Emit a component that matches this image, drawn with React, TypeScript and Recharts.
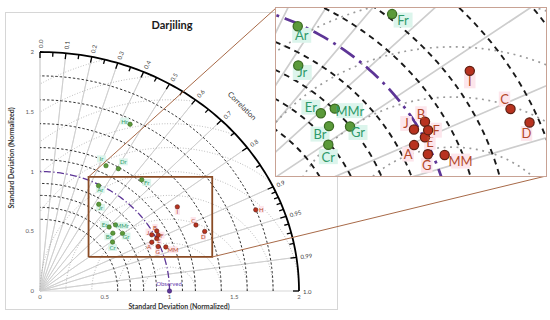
import { ScatterChart, Scatter, XAxis, YAxis } from 'recharts';

// values (normalized std dev + correlation against observed)
const AXIS_TICKS = [0, 0.5, 1, 1.5, 2];

const RED_NAMES = ['A', 'B', 'C', 'D', 'E', 'F', 'G', 'H', 'I', 'J', 'MM'];
const RED_STD = [0.955, 1.032, 1.325, 1.366, 1.003, 1.026, 0.985, 1.799, 1.273, 0.983, 1.039];
const RED_CORR = [0.904, 0.874, 0.909, 0.931, 0.899, 0.89, 0.926, 0.926, 0.833, 0.878, 0.935];

const GREEN_NAMES = ['Ar', 'Br', 'Cr', 'Dr', 'Er', 'Fr', 'Gr', 'Hr', 'Ir', 'Jr', 'MMr'];
const GREEN_STD = [0.991, 0.742, 0.694, 1.189, 0.756, 1.218, 0.799, 1.559, 1.166, 0.856, 0.804];
const GREEN_CORR = [0.456, 0.758, 0.807, 0.509, 0.706, 0.645, 0.797, 0.446, 0.437, 0.53, 0.725];

const OBSERVED_STD = 1;
const OBSERVED_CORR = 1;

const CORR_LABELS = [0, 0.1, 0.2, 0.3, 0.4, 0.5, 0.6, 0.7, 0.8, 0.9, 0.95, 0.99, 1];
const CORR_MINOR = [0.05, 0.15, 0.25, 0.35, 0.45, 0.55, 0.65, 0.75, 0.85, 0.91, 0.92, 0.93, 0.94, 0.96, 0.97, 0.98];
const CORR_RAYS = [0, 0.1, 0.2, 0.3, 0.4, 0.5, 0.6, 0.7, 0.8, 0.9, 0.95, 0.99, 1];
const STD_ARCS = [0.6, 0.7, 0.8, 0.9, 1.1, 1.2, 1.4, 1.6, 1.8];
const RMS_ARCS = [0.2, 0.4, 0.6, 0.8, 1.0, 1.2, 1.4, 1.6, 1.8, 2.0];
const STD_MAX = 2;
const ZOOM_X = [0.375, 1.33];
const ZOOM_Y = [0.285, 0.955];

// label offsets (px in the zoomed panel)
const LABEL_SHIFT: Record<string, [number, number]> = {
  A: [-6, 9], B: [-4, -8], C: [-6, -10], D: [-3, 11], E: [5, 5], F: [8, 0], G: [-1, 11],
  H: [12, -1], I: [0, 10], J: [-8, -6], MM: [16, 6],
  Ar: [4, 9], Br: [-9, 8], Cr: [0, 12], Dr: [11, -15], Er: [-10, -6], Fr: [11, 6], Gr: [8, 6],
  Hr: [-12, -7], Ir: [-10, -15], Jr: [4, 7], MMr: [15, 2],
  Observed: [-1, -17],
};

const FONT = 'Lato, "Liberation Sans", Arial, sans-serif';
const MAIN = { w: 340, h: 315, left: 40, top: 52, pw: 259, ph: 239 };
const INSET = { left: 276, top: 8, w: 270, h: 168 };
const KX = MAIN.pw / STD_MAX;
const KY = MAIN.ph / STD_MAX;

const clamp = (v: number) => Math.min(STD_MAX, Math.max(0, Math.round(v * 1e6) / 1e6));
const toXY = (std: number, corr: number) => ({
  x: clamp(std * corr),
  y: clamp(std * Math.sqrt(Math.max(0, 1 - corr * corr))),
});
const fmtCorr = (c: number) => (Number.isInteger(c) ? c.toFixed(1) : String(c));
const inZoom = (p: { x: number; y: number }) =>
  p.x >= ZOOM_X[0] && p.x <= ZOOM_X[1] && p.y >= ZOOM_Y[0] && p.y <= ZOOM_Y[1];

function stdArc(r: number) {
  const pts = [];
  for (let i = 0; i <= 90; i++) {
    const a = (i / 90) * (Math.PI / 2);
    pts.push({ x: clamp(r * Math.cos(a)), y: clamp(r * Math.sin(a)) });
  }
  return pts;
}

function rmsArc(r: number) {
  const o = OBSERVED_STD;
  const a0 = r + o > STD_MAX ? Math.acos((STD_MAX * STD_MAX - o * o - r * r) / (2 * r * o)) : 0;
  const a1 = r > o ? Math.acos(-o / r) : Math.PI;
  const pts = [];
  for (let i = 0; i <= 120; i++) {
    const a = a0 + ((a1 - a0) * i) / 120;
    pts.push({ x: clamp(o + r * Math.cos(a)), y: clamp(r * Math.sin(a)) });
  }
  return pts;
}

const redPoints = RED_NAMES.map((name, i) => ({ name, ...toXY(RED_STD[i], RED_CORR[i]) }));
const greenPoints = GREEN_NAMES.map((name, i) => ({ name, ...toXY(GREEN_STD[i], GREEN_CORR[i]) }));
const observedPoint = [{ name: 'Observed', ...toXY(OBSERVED_STD, OBSERVED_CORR) }];
const rays = CORR_RAYS.flatMap((c) => [{ x: 0, y: 0 }, toXY(STD_MAX, c)]);
const majorTicks = CORR_LABELS.map((c) => ({ ...toXY(STD_MAX, c), label: fmtCorr(c) }));
const minorTicks = CORR_MINOR.map((c) => ({ ...toXY(STD_MAX, c), label: '' }));
const zoomBox = [
  { x: ZOOM_X[0], y: ZOOM_Y[0] }, { x: ZOOM_X[1], y: ZOOM_Y[0] },
  { x: ZOOM_X[1], y: ZOOM_Y[1] }, { x: ZOOM_X[0], y: ZOOM_Y[1] }, { x: ZOOM_X[0], y: ZOOM_Y[0] },
];

type Look = { lw: number; dash: number; r: number; font: number; off: number };
const MAIN_LOOK: Look = { lw: 1, dash: 1, r: 2.2, font: 6, off: 1 / 2.2 };
const ZOOM_LOOK: Look = { lw: 2.1, dash: 2.4, r: 4.6, font: 13, off: 1 };

const noDot = () => <g />;

const arcTick = (major: boolean) => (p: any) => {
  const { cx, cy, payload } = p;
  const vx = KX * payload.x;
  const vy = -KY * payload.y;
  const n = Math.hypot(vx, vy) || 1;
  const ux = vx / n;
  const uy = vy / n;
  const len = major ? 6 : 4.5;
  const tx = cx + ux * 4;
  const ty = cy + uy * 4;
  const ang = (Math.atan2(uy, ux) * 180) / Math.PI;
  return (
    <g>
      <line x1={cx} y1={cy} x2={cx - ux * len} y2={cy - uy * len} stroke="#000" strokeWidth={1.3} />
      {major && (
        <text x={tx} y={ty} transform={`rotate(${ang} ${tx} ${ty})`} fontSize={6} fill="#404040" dominantBaseline="central">
          {payload.label}
        </text>
      )}
    </g>
  );
};

const pointShape = (look: Look, fill: string, stroke: string, color: string, bg: string) => (p: any) => {
  const { cx, cy, payload } = p;
  const [dx, dy] = LABEL_SHIFT[payload.name] ?? [0, 0];
  const tx = cx + dx * look.off;
  const ty = cy + dy * look.off;
  const w = payload.name.length * look.font * 0.58 + look.font * 0.3;
  const h = look.font * 1.15;
  return (
    <g>
      <rect x={tx - w / 2} y={ty - h / 2} width={w} height={h} fill={bg} />
      <circle cx={cx} cy={cy} r={look.r} fill={fill} stroke={stroke} strokeWidth={look.lw * 0.6} />
      <text x={tx} y={ty} textAnchor="middle" dominantBaseline="central" fontSize={look.font} fill={color}>
        {payload.name}
      </text>
    </g>
  );
};

function lineSeries(key: string, data: any[], stroke: string, width: number, dash?: string) {
  return (
    <Scatter
      key={key}
      data={data}
      line={{ stroke, strokeWidth: width, strokeDasharray: dash, fill: 'none' }}
      shape={noDot}
      isAnimationActive={false}
    />
  );
}

function TaylorChart({ zoom }: { zoom?: boolean }) {
  const look = zoom ? ZOOM_LOOK : MAIN_LOOK;
  const d = look.dash;
  const w = zoom ? INSET.w : MAIN.w;
  const h = zoom ? INSET.h : MAIN.h;
  const margin = zoom
    ? { top: 0, right: 0, bottom: 0, left: 0 }
    : { top: MAIN.top, right: MAIN.w - MAIN.left - MAIN.pw, bottom: 0, left: 0 };
  const green = zoom ? greenPoints.filter(inZoom) : greenPoints;
  const red = zoom ? redPoints.filter(inZoom) : redPoints;

  return (
    <ScatterChart width={w} height={h} margin={margin}>
      <XAxis
        type="number"
        dataKey="x"
        domain={zoom ? ZOOM_X : [0, STD_MAX]}
        ticks={AXIS_TICKS}
        interval={0}
        hide={zoom}
        allowDataOverflow={zoom}
        axisLine={false}
        tickLine={false}
        tickSize={3}
        tickMargin={1}
        height={MAIN.h - MAIN.top - MAIN.ph}
        tick={{ fontSize: 6, fill: '#595959' }}
        tickFormatter={(v: number) => String(v)}
      />
      <YAxis
        type="number"
        dataKey="y"
        domain={zoom ? ZOOM_Y : [0, STD_MAX]}
        ticks={AXIS_TICKS}
        interval={0}
        hide={zoom}
        allowDataOverflow={zoom}
        axisLine={false}
        tickLine={false}
        tickSize={5}
        tickMargin={1}
        width={MAIN.left}
        tick={{ fontSize: 6, fill: '#595959' }}
        tickFormatter={(v: number) => String(v)}
      />
      {lineSeries('rays', rays, '#cdcdcd', 0.8 * look.lw)}
      {RMS_ARCS.map((r) => lineSeries(`rms${r}`, rmsArc(r), '#9a9a9a', 0.8 * look.lw, `${0.8 * d} ${1.9 * d}`))}
      {STD_ARCS.map((r) => lineSeries(`std${r}`, stdArc(r), '#1a1a1a', 0.9 * look.lw, `${2.4 * d} ${2 * d}`))}
      {lineSeries('ref', stdArc(OBSERVED_STD), '#5d3596', 1.3 * look.lw, `${7 * d} ${2.5 * d} ${1.2 * d} ${2.5 * d}`)}
      {!zoom && lineSeries('outer', stdArc(STD_MAX), '#000', 1.8)}
      {!zoom && (
        <Scatter data={minorTicks} shape={arcTick(false)} isAnimationActive={false} />
      )}
      {!zoom && (
        <Scatter data={majorTicks} shape={arcTick(true)} isAnimationActive={false} />
      )}
      {!zoom && lineSeries('zoombox', zoomBox, '#8a4b24', 1.8)}
      <Scatter
        data={green}
        shape={pointShape(look, '#5b9a3a', '#3b6b22', '#2f9a6a', '#dcf5ec')}
        isAnimationActive={false}
      />
      <Scatter
        data={red}
        shape={pointShape(look, '#b8321f', '#5e1f12', '#b4482a', '#fde6ec')}
        isAnimationActive={false}
      />
      {!zoom && (
        <Scatter
          data={observedPoint}
          shape={pointShape(look, '#5d3596', '#3d2070', '#6a3fb0', 'rgba(0,0,0,0)')}
          isAnimationActive={false}
        />
      )}
    </ScatterChart>
  );
}

const mainPx = (x: number, y: number) => [
  MAIN.left + (x / STD_MAX) * MAIN.pw,
  MAIN.top + (1 - y / STD_MAX) * MAIN.ph,
];

export default function App() {
  const [ax, ay] = mainPx(ZOOM_X[0], ZOOM_Y[1]);
  const [bx, by] = mainPx(ZOOM_X[1], ZOOM_Y[0]);
  return (
    <div style={{ position: 'fixed', left: 0, top: 0, width: 550, height: 320, background: '#fff', fontFamily: FONT }}>
      <div
        style={{
          position: 'absolute', left: 5, top: 12, width: 333, height: 298,
          border: '1px solid #d6d6d6', boxSizing: 'border-box',
        }}
      />
      <div style={{ position: 'absolute', left: 0, top: 0 }}>
        <TaylorChart />
      </div>
      <svg width={550} height={320} style={{ position: 'absolute', left: 0, top: 0, pointerEvents: 'none' }}>
        <text x={172} y={24} textAnchor="middle" dominantBaseline="central" fontSize={11} fontWeight="bold" fill="#1a1a1a">
          Darjiling
        </text>
        <text x={179} y={306} textAnchor="middle" dominantBaseline="central" fontSize={7} fontWeight="bold" fill="#333">
          Standard Deviation (Normalized)
        </text>
        <text
          x={11} y={158} textAnchor="middle" dominantBaseline="central" fontSize={7} fontWeight="bold" fill="#333"
          transform="rotate(-90 11 158)"
        >
          Standard Deviation (Normalized)
        </text>
        <text
          x={242} y={106} textAnchor="middle" dominantBaseline="central" fontSize={7.5} fill="#333"
          transform="rotate(45 242 106)"
        >
          Correlation
        </text>
        <line x1={ax} y1={ay} x2={INSET.left} y2={INSET.top} stroke="#a86a48" strokeWidth={1} />
        <line x1={bx} y1={by} x2={INSET.left + INSET.w} y2={INSET.top + INSET.h} stroke="#a86a48" strokeWidth={1} />
      </svg>
      <div
        style={{
          position: 'absolute', left: INSET.left, top: INSET.top, width: INSET.w, height: INSET.h,
          background: '#fff', outline: '1.5px solid #c8a294',
        }}
      >
        <TaylorChart zoom />
      </div>
    </div>
  );
}
